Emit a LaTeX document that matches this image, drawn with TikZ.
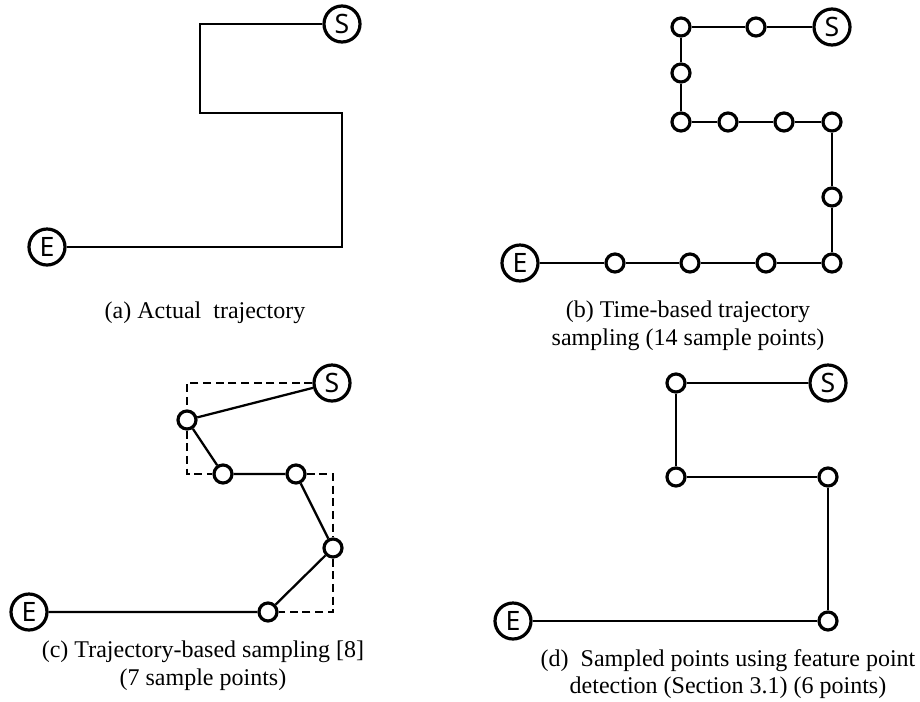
\documentclass[tikz,border=0pt]{standalone}
\usepackage{fontspec}
\setmainfont{Liberation Serif}
\newfontfamily\lblfont{Noto Sans}

\begin{document}
\begin{tikzpicture}[x=0.75pt,y=-0.75pt,
    endpt/.style={circle,draw,line width=2.4pt,minimum size=27pt,inner sep=0pt,
        font=\lblfont\fontsize{20}{20}\selectfont},
    smp/.style={circle,draw,line width=2.4pt,minimum size=13.5pt,inner sep=0pt,fill=white},
    trj/.style={line width=1.7pt},
    orig/.style={line width=1.5pt,dash pattern=on 6pt off 3.5pt},
    capt/.style={align=center,font=\fontsize{18}{20.7}\selectfont}]
    \useasboundingbox (0,0) rectangle (920,701);

    % (a) actual trajectory
    \node[endpt] (Sa) at (342,24) {S};
    \node[endpt] (Ea) at (47,247) {E};
    \coordinate (ca1) at (200,24);
    \coordinate (ca2) at (200,113);
    \coordinate (ca3) at (342,113);
    \coordinate (ca4) at (342,247);
    \draw[trj] (Sa) -- (ca1) -- (ca2) -- (ca3) -- (ca4) -- (Ea);
    \node[capt] (capa) at (205,313) {(a) Actual\ \ trajectory};

    % (b) time-based sampling
    \node[endpt] (Sb) at (832,27) {S};
    \node[endpt] (Eb) at (520,263) {E};
    \node[smp] (b1) at (756,27) {};
    \node[smp] (b2) at (681,27) {};
    \node[smp] (b3) at (681,73) {};
    \node[smp] (b4) at (681,122) {};
    \node[smp] (b5) at (728,122) {};
    \node[smp] (b6) at (784,122) {};
    \node[smp] (b7) at (832,122) {};
    \node[smp] (b8) at (832,197) {};
    \node[smp] (b9) at (832,263) {};
    \node[smp] (b10) at (766,263) {};
    \node[smp] (b11) at (690,263) {};
    \node[smp] (b12) at (615,263) {};
    \draw[trj] (Sb) -- (b1) -- (b2) -- (b3) -- (b4) -- (b5) -- (b6) -- (b7)
        -- (b8) -- (b9) -- (b10) -- (b11) -- (b12) -- (Eb);
    \node[capt] (capb) at (688,325.5) {(b) Time-based trajectory\\sampling (14 sample points)};

    % (c) trajectory-based sampling
    \node[endpt] (Sc) at (332,383) {S};
    \node[endpt] (Ec) at (29,612) {E};
    \coordinate (cd1) at (187,383);
    \coordinate (cd2) at (187,474);
    \coordinate (cd3) at (333,474);
    \coordinate (cd4) at (333,612);
    \node[smp] (c1) at (187,420) {};
    \node[smp] (c2) at (223,474) {};
    \node[smp] (c3) at (296,474) {};
    \node[smp] (c4) at (333,548) {};
    \node[smp] (c5) at (268,612) {};
    \draw[orig] (Sc) -- (cd1) -- (c1) -- (cd2) -- (c2);
    \draw[orig] (c3) -- (cd3) -- (c4) -- (cd4) -- (c5);
    \draw[trj] (Sc) -- (c1) -- (c2) -- (c3) -- (c4) -- (c5) -- (Ec);
    \node[capt] (capc) at (203,666) {(c) Trajectory-based sampling [8]\\(7 sample points)};

    % (d) feature point detection
    \node[endpt] (Sd) at (828,383) {S};
    \node[endpt] (Ed) at (513,621) {E};
    \node[smp] (d1) at (676,383) {};
    \node[smp] (d2) at (676,477) {};
    \node[smp] (d3) at (828,477) {};
    \node[smp] (d4) at (828,621) {};
    \draw[trj] (Sd) -- (d1) -- (d2) -- (d3) -- (d4) -- (Ed);
    \node[capt] (capd) at (728,674) {(d)\ \ Sampled points using feature point\\detection (Section 3.1) (6 points)};
\end{tikzpicture}
\end{document}
